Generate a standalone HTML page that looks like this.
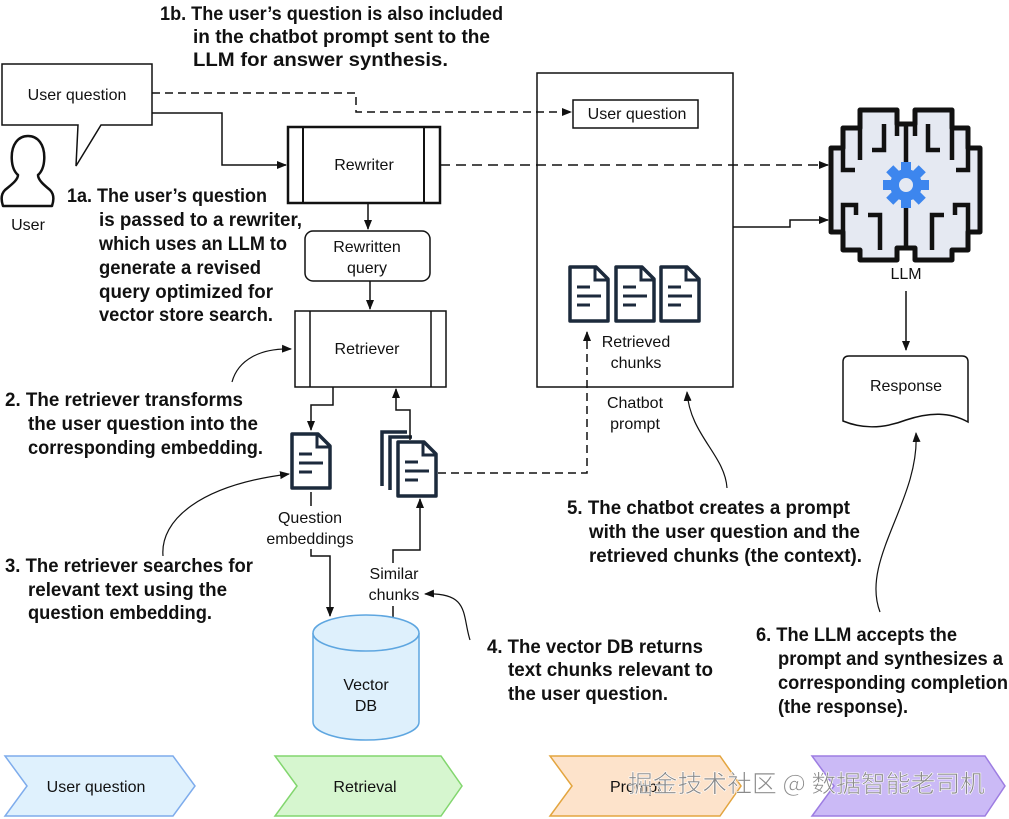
<!DOCTYPE html>
<html><head><meta charset="utf-8"><style>
html,body{margin:0;padding:0;background:#fff;}
svg{display:block;}
.t{font-family:"Liberation Sans",sans-serif;font-size:16px;fill:#111;}
.a{font-family:"Liberation Sans",sans-serif;font-weight:bold;font-size:19px;fill:#111;}
</style></head><body>
<svg width="1009" height="819" viewBox="0 0 1009 819" xmlns="http://www.w3.org/2000/svg">
<defs>
<marker id="ar" markerWidth="10" markerHeight="10" refX="9" refY="5" orient="auto" markerUnits="userSpaceOnUse"><path d="M0,1 L10,5 L0,9 Z" fill="#111"/></marker>
<g id="doc"><path d="M2,2 H28 L40,14 V56 H2 Z" fill="#fff" stroke="#1c2a3c" stroke-width="3.5" stroke-linejoin="round"/><path d="M27,2 V15 H40" fill="none" stroke="#1c2a3c" stroke-width="3"/><path d="M9,22 H22 M9,31 H33 M9,40 H22" stroke="#1c2a3c" stroke-width="3"/></g>
</defs>

<!-- Chatbot prompt box (drawn first so connectors overlay) -->
<rect x="537" y="73" width="196" height="314" fill="#fff" stroke="#111" stroke-width="1.5"/>

<!-- Annotations -->
<g class="a">
<text x="160" y="20" textLength="343" lengthAdjust="spacingAndGlyphs">1b. The user’s question is also included</text>
<text x="193" y="43" textLength="297" lengthAdjust="spacingAndGlyphs">in the chatbot prompt sent to the</text>
<text x="193" y="66" textLength="255" lengthAdjust="spacingAndGlyphs">LLM for answer synthesis.</text>

<text x="67" y="202" textLength="200" lengthAdjust="spacingAndGlyphs">1a. The user’s question</text>
<text x="99" y="226" textLength="203" lengthAdjust="spacingAndGlyphs">is passed to a rewriter,</text>
<text x="99" y="250" textLength="188" lengthAdjust="spacingAndGlyphs">which uses an LLM to</text>
<text x="99" y="274" textLength="162" lengthAdjust="spacingAndGlyphs">generate a revised</text>
<text x="99" y="298" textLength="174" lengthAdjust="spacingAndGlyphs">query optimized for</text>
<text x="99" y="321" textLength="174" lengthAdjust="spacingAndGlyphs">vector store search.</text>

<text x="5" y="406" textLength="238" lengthAdjust="spacingAndGlyphs">2. The retriever transforms</text>
<text x="28" y="430" textLength="230" lengthAdjust="spacingAndGlyphs">the user question into the</text>
<text x="28" y="454" textLength="235" lengthAdjust="spacingAndGlyphs">corresponding embedding.</text>

<text x="5" y="572" textLength="248" lengthAdjust="spacingAndGlyphs">3. The retriever searches for</text>
<text x="28" y="596" textLength="199" lengthAdjust="spacingAndGlyphs">relevant text using the</text>
<text x="28" y="619" textLength="184" lengthAdjust="spacingAndGlyphs">question embedding.</text>

<text x="487" y="653" textLength="216" lengthAdjust="spacingAndGlyphs">4. The vector DB returns</text>
<text x="508" y="676" textLength="205" lengthAdjust="spacingAndGlyphs">text chunks relevant to</text>
<text x="508" y="700" textLength="160" lengthAdjust="spacingAndGlyphs">the user question.</text>

<text x="567" y="514" textLength="283" lengthAdjust="spacingAndGlyphs">5. The chatbot creates a prompt</text>
<text x="589" y="538" textLength="271" lengthAdjust="spacingAndGlyphs">with the user question and the</text>
<text x="589" y="562" textLength="273" lengthAdjust="spacingAndGlyphs">retrieved chunks (the context).</text>

<text x="756" y="641" textLength="201" lengthAdjust="spacingAndGlyphs">6. The LLM accepts the</text>
<text x="778" y="665" textLength="225" lengthAdjust="spacingAndGlyphs">prompt and synthesizes a</text>
<text x="778" y="689" textLength="230" lengthAdjust="spacingAndGlyphs">corresponding completion</text>
<text x="778" y="713" textLength="130" lengthAdjust="spacingAndGlyphs">(the response).</text>
</g>

<!-- User bubble -->
<path d="M2,64 H152 V125 H101 L76,166 L78,125 H2 Z" fill="#fff" stroke="#111" stroke-width="1.5"/>
<text class="t" x="77" y="100" text-anchor="middle">User question</text>
<!-- User icon -->
<path d="M18,175 C10,168 10,150 16,142 C22,134 34,134 40,142 C46,150 46,168 38,175 C38,180 44,185 50,190 C54,194 54,200 52,206 H3 C1,200 1,194 5,190 C11,185 18,180 18,175 Z" fill="#fff" stroke="#111" stroke-width="2.5" stroke-linejoin="round"/>
<text class="t" x="28" y="230" text-anchor="middle">User</text>

<!-- connectors from bubble -->
<path d="M152,93 H356 V112 H571" fill="none" stroke="#111" stroke-width="1.5" stroke-dasharray="8,5" marker-end="url(#ar)"/>
<path d="M152,113 H222 V165 H286" fill="none" stroke="#111" stroke-width="1.5" marker-end="url(#ar)"/>

<!-- Chatbot contents -->
<rect x="573" y="100" width="125" height="28" fill="#fff" stroke="#111" stroke-width="1.5"/>
<text class="t" x="637" y="119" text-anchor="middle">User question</text>
<use href="#doc" x="568" y="265"/>
<use href="#doc" x="614" y="265"/>
<use href="#doc" x="659" y="265"/>
<text class="t" x="636" y="347" text-anchor="middle">Retrieved</text>
<text class="t" x="636" y="368" text-anchor="middle">chunks</text>
<text class="t" x="635" y="408" text-anchor="middle">Chatbot</text>
<text class="t" x="635" y="429" text-anchor="middle">prompt</text>

<!-- Rewriter -->
<rect x="288" y="127" width="152" height="76" fill="#fff" stroke="#111" stroke-width="2.5"/>
<path d="M303,127 V203 M424,127 V203" stroke="#111" stroke-width="2"/>
<text class="t" x="364" y="170" text-anchor="middle">Rewriter</text>
<path d="M440,165 H828" fill="none" stroke="#111" stroke-width="1.5" stroke-dasharray="10,6" marker-end="url(#ar)"/>
<path d="M368,203 V229" stroke="#111" stroke-width="1.5" marker-end="url(#ar)"/>
<rect x="305" y="231" width="125" height="50" rx="8" fill="#fff" stroke="#111" stroke-width="1.5"/>
<text class="t" x="367" y="252" text-anchor="middle">Rewritten</text>
<text class="t" x="367" y="273" text-anchor="middle">query</text>
<path d="M370,281 V309" stroke="#111" stroke-width="1.5" marker-end="url(#ar)"/>

<!-- Retriever -->
<rect x="295" y="311" width="151" height="76" fill="#fff" stroke="#111" stroke-width="1.5"/>
<path d="M310,311 V387 M431,311 V387" stroke="#111" stroke-width="1.5"/>
<text class="t" x="367" y="354" text-anchor="middle">Retriever</text>

<!-- chatbot to LLM -->
<path d="M733,227 H790 V220 H828" fill="none" stroke="#111" stroke-width="1.5" marker-end="url(#ar)"/>

<!-- question doc -->
<path d="M333,387 V405 H311 V430" fill="none" stroke="#111" stroke-width="1.5" marker-end="url(#ar)"/>
<use href="#doc" x="290" y="432"/>
<path d="M311,492 V506" stroke="#111" stroke-width="1.5"/>
<text class="t" x="310" y="523" text-anchor="middle">Question</text>
<text class="t" x="310" y="544" text-anchor="middle">embeddings</text>
<path d="M311,549 V556 H330 V616" fill="none" stroke="#111" stroke-width="1.5" marker-end="url(#ar)"/>

<!-- stack docs -->
<path d="M382,486 V432 H407" fill="none" stroke="#1c2a3c" stroke-width="3.5"/>
<path d="M390,490 V437 H412" fill="none" stroke="#1c2a3c" stroke-width="3.5"/>
<use href="#doc" x="396" y="440"/>
<path d="M410,440 V410 H396 V389" fill="none" stroke="#111" stroke-width="1.5" marker-end="url(#ar)"/>
<path d="M438,473 H587 V332" fill="none" stroke="#111" stroke-width="1.5" stroke-dasharray="8,5" marker-end="url(#ar)"/>
<path d="M393,563 V550 H420 V499" fill="none" stroke="#111" stroke-width="1.5" marker-end="url(#ar)"/>
<text class="t" x="394" y="579" text-anchor="middle">Similar</text>
<text class="t" x="394" y="600" text-anchor="middle">chunks</text>
<path d="M393,606 V620" stroke="#111" stroke-width="1.5"/>

<!-- Vector DB -->
<path d="M313,633 V722 A53,18 0 0 0 419,722 V633" fill="#def0fc" stroke="#5ea6e0" stroke-width="1.5"/>
<ellipse cx="366" cy="633" rx="53" ry="18" fill="#def0fc" stroke="#5ea6e0" stroke-width="1.5"/>
<text class="t" x="366" y="690" text-anchor="middle">Vector</text>
<text class="t" x="366" y="711" text-anchor="middle">DB</text>

<!-- Brain -->
<path d="M860,110 H897 V124 H915 V110 H952 V128 H968 V148 H980 V232 H968 V250 H952 V260 H915 V248 H897 V260 H860 V250 H843 V232 H831 V148 H843 V128 H860 Z" fill="#e5e9f2" stroke="#111" stroke-width="5" stroke-linejoin="round"/>
<path d="M906,124 V165 M906,206 V250 M884,124 V150 H872 M928,124 V150 H940 M843,148 V170 H855 M968,148 V170 H956 M843,232 V205 H856 V215 M968,232 V205 H955 V215 M880,250 V215 H868 M932,250 V215 H944 M860,128 V160 M952,128 V160 M897,124 V136 M915,124 V136" fill="none" stroke="#111" stroke-width="4.5"/>
<g fill="#3d86ee">
<circle cx="906" cy="185" r="16"/>
<g transform="translate(906,185)">
<rect x="-5" y="-23" width="10" height="46"/>
<rect x="-5" y="-23" width="10" height="46" transform="rotate(45)"/>
<rect x="-5" y="-23" width="10" height="46" transform="rotate(90)"/>
<rect x="-5" y="-23" width="10" height="46" transform="rotate(135)"/>
</g></g>
<circle cx="906" cy="185" r="7" fill="#e5e9f2"/>
<text class="t" x="906" y="279" text-anchor="middle">LLM</text>
<path d="M906,291 V350" stroke="#111" stroke-width="1.5" marker-end="url(#ar)"/>

<!-- Response -->
<path d="M843,362 Q843,356 849,356 H962 Q968,356 968,362 V422 C950,412 930,412 906,420 C880,430 860,428 843,421 Z" fill="#fff" stroke="#111" stroke-width="1.5"/>
<text class="t" x="906" y="391" text-anchor="middle">Response</text>

<!-- curved annotation arrows -->
<g fill="none" stroke="#111" stroke-width="1.2" marker-end="url(#ar)">
<path d="M232,382 C238,360 260,348 291,349"/>
<path d="M163,556 C160,520 200,485 289,474"/>
<path d="M470,640 C462,615 470,592 425,594"/>
<path d="M727,488 C725,455 690,435 687,392"/>
<path d="M880,612 C860,560 920,500 916,433"/>
</g>

<!-- bottom chevrons -->
<path d="M5,756 H173 L195,786 L173,816 H5 L27,786 Z" fill="#dff1fd" stroke="#7eacec" stroke-width="1.5"/>
<text class="t" x="96" y="792" text-anchor="middle">User question</text>
<path d="M275,756 H441 L462,786 L441,816 H275 L297,786 Z" fill="#d6f6cf" stroke="#82d66e" stroke-width="1.5"/>
<text class="t" x="365" y="792" text-anchor="middle">Retrieval</text>
<path d="M550,756 H720 L741,786 L720,816 H550 L572,786 Z" fill="#fde3cb" stroke="#e3a53f" stroke-width="1.5"/>
<text class="t" x="610" y="792">Prompt</text>
<path d="M812,756 H985 L1005,786 L985,816 H812 L834,786 Z" fill="#cbbaf6" stroke="#9d7de2" stroke-width="1.5"/>
<text x="628" y="792" textLength="357" lengthAdjust="spacingAndGlyphs" font-family="'Noto Sans CJK SC',sans-serif" font-size="24" fill="#8a8a8a" stroke="#fff" stroke-width="0.6">掘金技术社区 @ 数据智能老司机</text>
</svg>
</body></html>
